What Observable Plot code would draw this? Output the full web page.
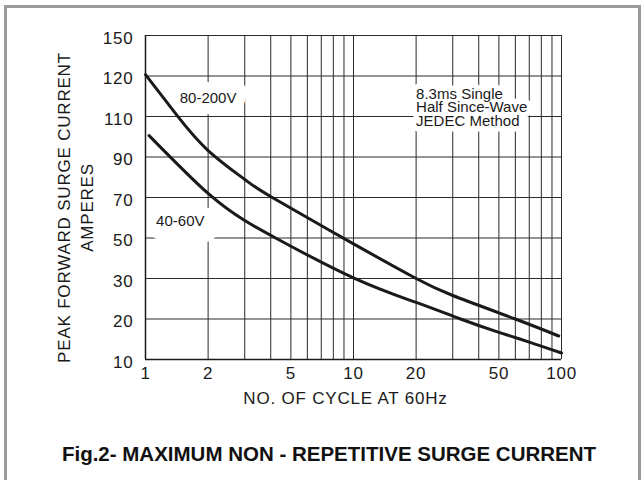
<!DOCTYPE html>
<html>
<head>
<meta charset="utf-8">
<script src="https://cdn.jsdelivr.net/npm/d3@7"></script>
<script src="https://cdn.jsdelivr.net/npm/@observablehq/plot@0.6"></script>
<style>
  html, body { margin: 0; padding: 0; background: #fff; overflow: hidden; }
  #card { position: absolute; left: 4px; top: 5px; width: 637px; height: 520px; border: 3px solid #9a9a9a; box-sizing: border-box; }
  #chart { position: absolute; left: 0; top: 0; }
  #chart svg text { letter-spacing: 0.8px; }
  #caption { position: absolute; left: 14px; top: 442px; width: 630px; text-align: center;
    font-family: "Liberation Sans", Arial, sans-serif; font-weight: bold; font-size: 20.5px; color: #111; }
</style>
</head>
<body>
<div id="card"></div>
<div id="chart"></div>
<div id="caption">Fig.2- MAXIMUM NON - REPETITIVE SURGE CURRENT</div>
<script>
// ---- data ----
const xTicks = [1, 2, 5, 10, 20, 50, 100];
const xGrid = [1, 2, 3, 4, 5, 6, 7, 8, 9, 10, 20, 30, 40, 50, 60, 70, 80, 90, 100];
const yTicks = [10, 20, 30, 50, 70, 90, 110, 120, 150];

const cycles80200 = [1, 1.42, 2, 3, 4.07, 10, 20, 30, 60, 97];
const amps80200   = [121, 110.2, 93.2, 78.9, 70, 47.1, 30, 25.8, 20, 15.8];

const cycles4060 = [1.04, 2, 3, 4.22, 10, 20, 32.7, 50, 70, 100];
const amps4060   = [100.6, 72, 58.6, 50, 30.3, 24.1, 20, 16.7, 14.3, 11.6];

const seriesLabels = ["80-200V", "40-60V"];
const labelX = [2, 1.47];
const labelY = [114.5, 58.1];

const noteText = "8.3ms Single\nHalf Since-Wave\nJEDEC Method";
const noteX = 20;
const noteY = 112.1;

const xTitle = "NO. OF CYCLE AT 60Hz";
const yTitle = ["PEAK FORWARD SURGE CURRENT", "AMPERES"];

// ---- build ----
const curve80 = cycles80200.map((c, i) => ({c, a: amps80200[i]}));
const curve40 = cycles4060.map((c, i) => ({c, a: amps4060[i]}));
const labels = seriesLabels.map((t, i) => ({t, x: labelX[i], y: labelY[i]}));

const W = 644, H = 420, mt = 35, mb = 61, ml = 145, mr = 83;
const yRange = yTicks.map((_, i) => (H - mb) - i * ((H - mb - mt) / (yTicks.length - 1)));
const font = "'Liberation Sans', Arial, sans-serif";
const ink = "#1a1a1a";

const chart = Plot.plot({
  width: W, height: H,
  marginTop: mt, marginBottom: mb, marginLeft: ml, marginRight: mr,
  style: {fontFamily: font, fontSize: "17px", color: ink, background: "transparent"},
  x: {type: "log", domain: [1, 100]},
  y: {type: "linear", domain: yTicks, range: yRange},
  marks: [
    Plot.ruleX(xGrid, {stroke: "#2a2a2a", strokeWidth: 1}),
    Plot.ruleY(yTicks, {stroke: "#2a2a2a", strokeWidth: 1}),
    // white knock-out boxes behind the annotations
    Plot.text(labels.slice(0, 1), {x: "x", y: "y", text: "t", fontSize: 15, stroke: "white", strokeWidth: 22, fill: "white"}),
    Plot.text(labels.slice(1), {x: "x", y: "y", text: "t", fontSize: 15, stroke: "white", strokeWidth: 24, fill: "white", dx: 5, dy: 4}),
    Plot.text([noteText], {x: () => noteX, y: () => noteY, text: d => d, textAnchor: "start", fontSize: 15, lineHeight: 0.93, stroke: "white", strokeWidth: 11, fill: "white"}),
    Plot.text(labels, {x: "x", y: "y", text: "t", fontSize: 15, fill: ink}),
    Plot.text([noteText], {x: () => noteX, y: () => noteY, text: d => d, textAnchor: "start", fontSize: 15, lineHeight: 0.93, fill: ink}),
    Plot.line(curve80, {x: "c", y: "a", curve: "natural", stroke: ink, strokeWidth: 3}),
    Plot.line(curve40, {x: "c", y: "a", curve: "natural", stroke: ink, strokeWidth: 3}),
    Plot.ruleX([1], {stroke: ink, strokeWidth: 1.5}),
    Plot.ruleY([10], {stroke: ink, strokeWidth: 1.5}),
    Plot.axisX({ticks: xTicks, tickSize: 0, tickPadding: 7, tickFormat: d => String(d), label: null, fontSize: 17}),
    Plot.axisY({ticks: yTicks, tickSize: 0, tickPadding: 12, tickFormat: d => String(d), label: null, fontSize: 17, dy: 3}),
    Plot.text([xTitle], {frameAnchor: "bottom", text: d => d, dy: 44, dx: -8, fontSize: 17}),
    Plot.text([yTitle[0]], {frameAnchor: "left", textAnchor: "middle", text: d => d, rotate: -90, dx: -81, dy: 10, fontSize: 17}),
    Plot.text([yTitle[1]], {frameAnchor: "left", textAnchor: "middle", text: d => d, rotate: -90, dx: -58, dy: 10, fontSize: 17})
  ]
});
// annotation texts keep normal letter spacing
chart.querySelectorAll("text").forEach(el => {
  if (seriesLabels.includes(el.textContent) || el.querySelector("tspan")) el.style.letterSpacing = "0px";
});
document.getElementById("chart").appendChild(chart);
</script>
</body>
</html>
